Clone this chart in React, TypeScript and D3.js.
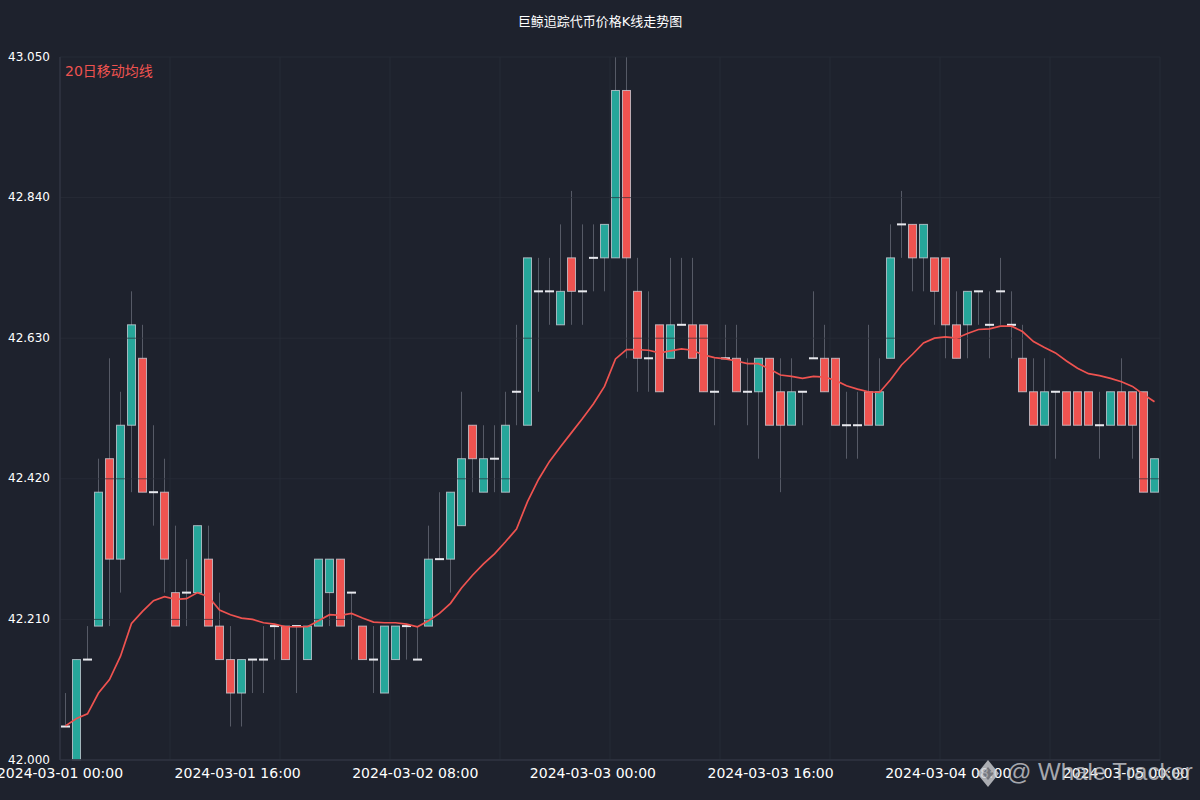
import React, { useEffect } from "react";
import * as d3 from "d3";

// candle values (100 bars)
const opens = [
  42.05, 42.0, 42.15, 42.2, 42.45, 42.3, 42.5, 42.6, 42.4, 42.4,
  42.25, 42.25, 42.25, 42.3, 42.2, 42.15, 42.1, 42.15, 42.15, 42.2,
  42.2, 42.2, 42.15, 42.2, 42.25, 42.3, 42.25, 42.2, 42.15, 42.1,
  42.15, 42.2, 42.15, 42.2, 42.3, 42.3, 42.35, 42.5, 42.4, 42.45,
  42.4, 42.55, 42.5, 42.7, 42.7, 42.65, 42.75, 42.7, 42.75, 42.75,
  42.75, 43.0, 42.7, 42.6, 42.65, 42.6, 42.65, 42.65, 42.65, 42.55,
  42.6, 42.6, 42.55, 42.55, 42.6, 42.55, 42.5, 42.55, 42.6, 42.6,
  42.6, 42.5, 42.5, 42.55, 42.5, 42.6, 42.8, 42.8, 42.75, 42.75,
  42.75, 42.65, 42.65, 42.7, 42.65, 42.7, 42.65, 42.6, 42.55, 42.5,
  42.55, 42.55, 42.55, 42.55, 42.5, 42.5, 42.55, 42.55, 42.55, 42.4,
];
const highs = [
  42.1, 42.15, 42.2, 42.45, 42.6, 42.55, 42.7, 42.65, 42.5, 42.45,
  42.35, 42.3, 42.35, 42.35, 42.25, 42.2, 42.15, 42.15, 42.2, 42.2,
  42.2, 42.2, 42.2, 42.3, 42.3, 42.3, 42.25, 42.2, 42.2, 42.2,
  42.2, 42.2, 42.2, 42.35, 42.4, 42.4, 42.55, 42.5, 42.5, 42.5,
  42.55, 42.65, 42.75, 42.75, 42.75, 42.8, 42.85, 42.8, 42.8, 42.8,
  43.05, 43.05, 42.75, 42.7, 42.65, 42.75, 42.75, 42.75, 42.65, 42.6,
  42.65, 42.65, 42.6, 42.6, 42.6, 42.6, 42.6, 42.55, 42.7, 42.65,
  42.6, 42.55, 42.55, 42.65, 42.6, 42.8, 42.85, 42.8, 42.8, 42.75,
  42.75, 42.7, 42.7, 42.7, 42.7, 42.75, 42.7, 42.65, 42.6, 42.6,
  42.55, 42.55, 42.55, 42.55, 42.55, 42.55, 42.6, 42.55, 42.55, 42.45,
];
const lows = [
  42.05, 42.0, 42.15, 42.2, 42.2, 42.25, 42.4, 42.4, 42.35, 42.25,
  42.2, 42.2, 42.25, 42.2, 42.15, 42.05, 42.05, 42.1, 42.1, 42.15,
  42.15, 42.1, 42.15, 42.2, 42.2, 42.2, 42.15, 42.15, 42.1, 42.1,
  42.15, 42.15, 42.15, 42.2, 42.3, 42.25, 42.35, 42.4, 42.4, 42.4,
  42.4, 42.5, 42.5, 42.55, 42.65, 42.65, 42.65, 42.65, 42.7, 42.7,
  42.75, 42.6, 42.55, 42.55, 42.55, 42.6, 42.65, 42.6, 42.55, 42.5,
  42.6, 42.55, 42.5, 42.45, 42.5, 42.4, 42.5, 42.5, 42.6, 42.55,
  42.5, 42.45, 42.45, 42.5, 42.5, 42.6, 42.75, 42.7, 42.7, 42.65,
  42.6, 42.6, 42.6, 42.65, 42.6, 42.65, 42.6, 42.55, 42.5, 42.5,
  42.45, 42.5, 42.5, 42.5, 42.45, 42.5, 42.5, 42.45, 42.4, 42.4,
];
const closes = [
  42.05, 42.15, 42.15, 42.4, 42.3, 42.5, 42.65, 42.4, 42.4, 42.3,
  42.2, 42.25, 42.35, 42.2, 42.15, 42.1, 42.15, 42.15, 42.15, 42.2,
  42.15, 42.2, 42.2, 42.3, 42.3, 42.2, 42.25, 42.15, 42.15, 42.2,
  42.2, 42.2, 42.15, 42.3, 42.3, 42.4, 42.45, 42.45, 42.45, 42.45,
  42.5, 42.55, 42.75, 42.7, 42.7, 42.7, 42.7, 42.7, 42.75, 42.8,
  43.0, 42.75, 42.6, 42.6, 42.55, 42.65, 42.65, 42.6, 42.55, 42.55,
  42.6, 42.55, 42.55, 42.6, 42.5, 42.5, 42.55, 42.55, 42.6, 42.55,
  42.5, 42.5, 42.5, 42.5, 42.55, 42.75, 42.8, 42.75, 42.8, 42.7,
  42.65, 42.6, 42.7, 42.7, 42.65, 42.7, 42.65, 42.55, 42.5, 42.55,
  42.55, 42.5, 42.5, 42.5, 42.5, 42.55, 42.5, 42.5, 42.4, 42.45,
];
// moving average line, read point by point
const maValues = [
  42.051, 42.062, 42.069, 42.1, 42.12, 42.155, 42.204, 42.222, 42.238, 42.244,
  42.24, 42.241, 42.25, 42.244, 42.224, 42.217, 42.212, 42.21, 42.205, 42.203,
  42.199, 42.199, 42.199, 42.208, 42.217, 42.216, 42.219, 42.212, 42.206, 42.205,
  42.205, 42.203, 42.199, 42.208, 42.219, 42.234, 42.257, 42.276, 42.293, 42.308,
  42.326, 42.345, 42.386, 42.419, 42.446, 42.468, 42.489, 42.51, 42.532, 42.558,
  42.599, 42.613, 42.613, 42.612, 42.608, 42.611, 42.614, 42.612, 42.605, 42.601,
  42.599, 42.596, 42.592, 42.592, 42.584, 42.575, 42.573, 42.57, 42.573, 42.572,
  42.567, 42.559, 42.554, 42.55, 42.549, 42.568, 42.59, 42.606, 42.623, 42.63,
  42.632, 42.63, 42.637, 42.643, 42.644, 42.648, 42.648, 42.64, 42.625, 42.616,
  42.608, 42.596, 42.585, 42.577, 42.574, 42.57, 42.565, 42.558, 42.546, 42.535,
];

const yTickValues = [42.0, 42.21, 42.42, 42.63, 42.84, 43.05];
const xTickIndex = [0, 16.15, 32.3, 48.45, 64.6, 80.75, 96.9];
const xTickLabels = [
  "2024-03-01 00:00",
  "2024-03-01 16:00",
  "2024-03-02 08:00",
  "2024-03-03 00:00",
  "2024-03-03 16:00",
  "2024-03-04 08:00",
  "2024-03-05 00:00",
];
const titleText = "巨鲸追踪代币价格K线走势图";
const legendText = "20日移动均线";

const W = 1200;
const H = 800;
const margin = { top: 57, right: 40, bottom: 40, left: 60 };
const UP = "#26a69a";
const DOWN = "#ef5350";
const BG = "#1e222d";
const FONT = "'DejaVu Sans', 'Noto Sans CJK SC', sans-serif";

const App = () => {
  useEffect(() => {
    document.body.style.margin = "0";
    document.body.style.background = BG;
  }, []);

  const idx = d3.range(opens.length);
  const x = d3
    .scaleBand<number>()
    .domain(idx)
    .range([margin.left, W - margin.right])
    .paddingInner(0.18)
    .paddingOuter(0.09);
  const xLin = d3
    .scaleLinear()
    .domain([0, opens.length])
    .range([margin.left, W - margin.right]);
  const y = d3
    .scaleLinear()
    .domain([d3.min(lows) as number, d3.max(highs) as number])
    .range([H - margin.bottom, margin.top]);

  const cx = (i: number) => (x(i) as number) + x.bandwidth() / 2;
  const maLine = d3
    .line<number>()
    .x((_, i) => cx(i))
    .y((d) => y(d));

  const vGrid = d3.range(0, opens.length + 1, 10);

  return (
    <div style={{ position: "absolute", left: 0, top: 0 }}>
      <svg width={W} height={H} style={{ display: "block", fontFamily: FONT }}>
        <rect width={W} height={H} fill={BG} />

        {/* wicks */}
        {idx.map((i) => (
          <line
            key={"w" + i}
            x1={cx(i)}
            x2={cx(i)}
            y1={y(highs[i])}
            y2={y(lows[i])}
            stroke="#6a6e79"
            strokeOpacity={0.75}
            strokeWidth={1}
          />
        ))}

        {/* bodies */}
        {idx.map((i) => {
          const o = opens[i];
          const c = closes[i];
          if (Math.abs(o - c) < 1e-9) {
            return (
              <rect
                key={"b" + i}
                x={x(i)}
                y={y(c) - 1}
                width={x.bandwidth()}
                height={2}
                fill="#e8e9ee"
              />
            );
          }
          const top = y(Math.max(o, c));
          const bot = y(Math.min(o, c));
          return (
            <rect
              key={"b" + i}
              x={(x(i) as number) + 0.5}
              y={top}
              width={x.bandwidth() - 1}
              height={bot - top}
              fill={c > o ? UP : DOWN}
              stroke="#d1d4dc"
              strokeOpacity={0.75}
              strokeWidth={1}
            />
          );
        })}

        {/* grid on top, semi transparent */}
        <g stroke="#2a2e39" strokeOpacity={0.7} strokeWidth={1}>
          {vGrid.map((v) => (
            <line key={"vg" + v} x1={xLin(v)} x2={xLin(v)} y1={margin.top} y2={H - margin.bottom} />
          ))}
          {yTickValues.map((v) => (
            <line key={"hg" + v} x1={margin.left} x2={W - margin.right} y1={y(v)} y2={y(v)} />
          ))}
        </g>
        <line x1={margin.left} x2={margin.left} y1={margin.top} y2={H - margin.bottom} stroke="#2f3340" strokeWidth={1.5} />
        <line x1={margin.left} x2={W - margin.right} y1={H - margin.bottom} y2={H - margin.bottom} stroke="#2f3340" strokeWidth={1.5} />

        <path d={maLine(maValues) as string} fill="none" stroke={DOWN} strokeWidth={1.7} />

        {/* y axis labels */}
        {yTickValues.map((v) => (
          <text
            key={"yl" + v}
            x={margin.left - 10}
            y={y(v)}
            textAnchor="end"
            dominantBaseline="middle"
            fill="#ffffff"
            fontSize={12}
          >
            {d3.format(".3f")(v)}
          </text>
        ))}

        {/* x axis labels */}
        {xTickIndex.map((v, k) => (
          <text
            key={"xl" + k}
            x={xLin(v)}
            y={H - margin.bottom + 14}
            textAnchor="middle"
            dominantBaseline="middle"
            fill="#ffffff"
            fontSize={14}
          >
            {xTickLabels[k]}
          </text>
        ))}

        <text x={W / 2} y={22} textAnchor="middle" dominantBaseline="middle" fill="#ffffff" fontSize={13}>
          {titleText}
        </text>
        <text x={margin.left + 5} y={72} dominantBaseline="middle" fill={DOWN} fontSize={14}>
          {legendText}
        </text>

        {/* watermark */}
        <g opacity={0.8}>
          <path d="M988,760 L999,773.5 L988,787 L977,773.5 Z" fill="#cfd0d4" />
          <path d="M988,767 L993.5,773.5 L988,780 L982.5,773.5 Z" fill="#8a8c93" />
          <text x={1007} y={774} dominantBaseline="middle" fill="#c8c9cd" fontSize={24} fontFamily="'Liberation Sans', sans-serif">
            @ Whale Tracker
          </text>
        </g>
      </svg>
    </div>
  );
};

export default App;
